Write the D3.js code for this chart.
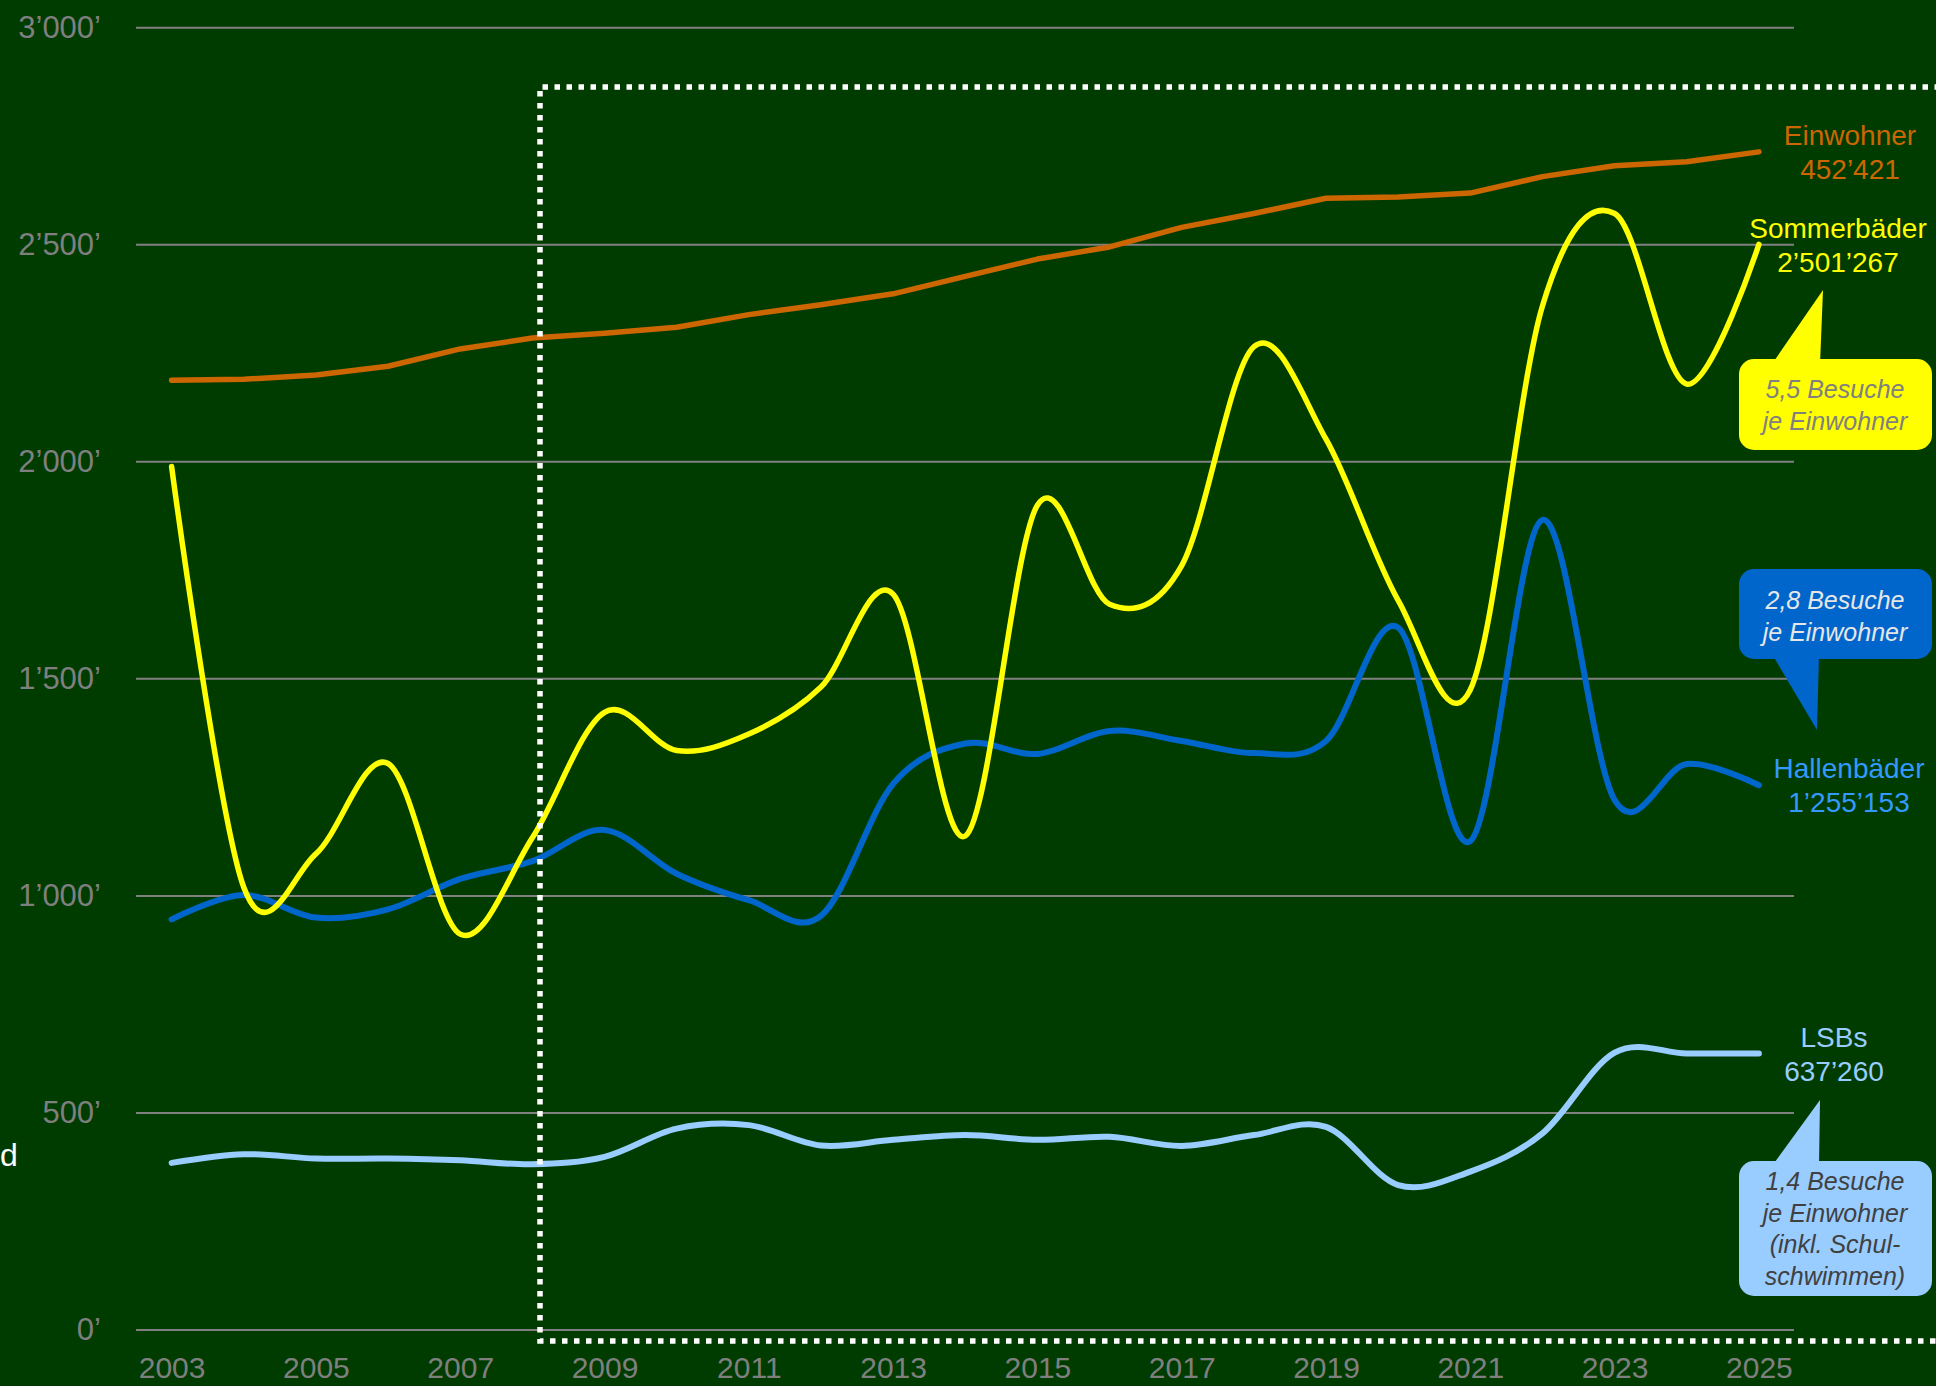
<!DOCTYPE html>
<html>
<head>
<meta charset="utf-8">
<script src="https://cdn.jsdelivr.net/npm/d3@7"></script>
<style>
  html, body { margin: 0; padding: 0; background: #003C00; overflow: hidden; }
  svg { display: block; }
  text { font-family: "Liberation Sans", Arial, sans-serif; }
</style>
</head>
<body>
<script>
// ---------- data ----------
const years = [2003,2004,2005,2006,2007,2008,2009,2010,2011,2012,2013,2014,2015,2016,2017,2018,2019,2020,2021,2022,2023,2024,2025];
// Einwohner (scaled: population * 6 / 1000)
const einwohner = [2188,2190,2200,2220,2260,2285,2296,2310,2339,2362,2387,2427,2467,2495,2540,2572,2607,2610,2619,2657,2682,2691,2714];
// Sommerbäder visits (thousands)
const sommerbaeder = [1989,1020,1097,1305,912,1134,1423,1335,1373,1481,1695,1138,1900,1672,1761,2265,2052,1681,1475,2359,2572,2179,2501];
// Hallenbäder visits (thousands)
const hallenbaeder = [946,1002,950,969,1039,1080,1152,1051,990,954,1258,1351,1327,1380,1357,1329,1357,1618,1126,1866,1221,1304,1255];
// LSBs visits (thousands)
const lsbs = [385,405,395,395,391,382,399,464,472,425,438,449,438,445,424,449,468,334,365,453,639,637,637];

const yTicks = [0,500,1000,1500,2000,2500,3000];
const yTickLabels = ["0’","500’","1’000’","1’500’","2’000’","2’500’","3’000’"];
const xTicks = [2003,2005,2007,2009,2011,2013,2015,2017,2019,2021,2023,2025];

const seriesLabels = [
  {name:"Einwohner", value:"452’421", color:"#CC6600"},
  {name:"Sommerbäder", value:"2’501’267", color:"#FFFF00"},
  {name:"Hallenbäder", value:"1’255’153", color:"#3399FF"},
  {name:"LSBs", value:"637’260", color:"#99CCFF"}
];
const calloutTexts = [
  ["5,5 Besuche","je Einwohner"],
  ["2,8 Besuche","je Einwohner"],
  ["1,4 Besuche","je Einwohner","(inkl. Schul-","schwimmen)"]
];

// ---------- layout ----------
const W = 1936, H = 1386;
const svg = d3.select("body").append("svg").attr("width", W).attr("height", H);
svg.append("rect").attr("width", W).attr("height", H).attr("fill", "#003C00");

const x = d3.scaleLinear().domain([2003, 2025]).range([171.6, 1758.9]);
const y = d3.scaleLinear().domain([0, 3000]).range([1330, 27.7]);

// gridlines
svg.append("g").selectAll("line").data(yTicks).join("line")
  .attr("x1", 136).attr("x2", 1794)
  .attr("y1", d => y(d)).attr("y2", d => y(d))
  .attr("stroke", "#808080").attr("stroke-width", 2);

// y axis labels
const yAxis = d3.axisLeft(y).tickValues(yTicks)
  .tickFormat((d, i) => yTickLabels[i]).tickSize(0).tickPadding(0);
const yg = svg.append("g").attr("transform", "translate(101,0)").call(yAxis);
yg.select(".domain").remove();
yg.selectAll("text").attr("fill", "#7F7F7F").attr("font-size", 31)
  .attr("font-family", "Liberation Sans, Arial, sans-serif");

// x axis labels
const xAxis = d3.axisBottom(x).tickValues(xTicks).tickFormat(d3.format("d")).tickSize(0).tickPadding(0);
const xg = svg.append("g").attr("transform", "translate(0,1357)").call(xAxis);
xg.select(".domain").remove();
xg.selectAll("text").attr("fill", "#7F7F7F").attr("font-size", 30)
  .attr("font-family", "Liberation Sans, Arial, sans-serif");

// lines
const smooth = d3.line().x((d, i) => x(years[i])).y(d => y(d)).curve(d3.curveCardinal.tension(0));
const linear = d3.line().x((d, i) => x(years[i])).y(d => y(d));

function drawLine(data, color, gen, w) {
  svg.append("path").datum(data).attr("d", gen)
    .attr("fill", "none").attr("stroke", color).attr("stroke-width", w)
    .attr("stroke-linecap", "round").attr("stroke-linejoin", "round");
}
drawLine(lsbs, "#99CCFF", smooth, 6);
drawLine(hallenbaeder, "#0066CC", smooth, 6);
drawLine(einwohner, "#CC6600", linear, 5.5);
drawLine(sommerbaeder, "#FFFF00", smooth, 5.5);

// dotted frame
svg.append("path")
  .attr("d", "M1940,87 H540 V1341 H1940")
  .attr("fill", "none").attr("stroke", "#FFFFFF").attr("stroke-width", 5.5)
  .attr("stroke-dasharray", "5.5 6.5");

// series labels
const labelPos = [
  {cx:1850, b:145}, {cx:1838, b:238}, {cx:1849, b:778}, {cx:1834, b:1047}
];
seriesLabels.forEach((s, i) => {
  const t = svg.append("text").attr("text-anchor", "middle")
    .attr("font-size", 28).attr("fill", s.color);
  t.append("tspan").attr("x", labelPos[i].cx).attr("y", labelPos[i].b).text(s.name);
  t.append("tspan").attr("x", labelPos[i].cx).attr("y", labelPos[i].b + 34).text(s.value);
});

// callouts
const callouts = [
  {box:[1739,359,1932,450], tri:[[1772,364],[1820,364],[1823,290]], fill:"#FFFF00", tc:"#808080", b:398},
  {box:[1739,569,1932,659], tri:[[1772,654],[1819,654],[1817,730]], fill:"#0066CC", tc:"#E6E6E6", b:609},
  {box:[1739,1161,1932,1296], tri:[[1772,1166],[1819,1166],[1820,1100]], fill:"#99CCFF", tc:"#404040", b:1190}
];
callouts.forEach((c, i) => {
  svg.append("rect").attr("x", c.box[0]).attr("y", c.box[1])
    .attr("width", c.box[2] - c.box[0]).attr("height", c.box[3] - c.box[1])
    .attr("rx", 15).attr("ry", 15).attr("fill", c.fill);
  svg.append("path").attr("d", "M" + c.tri.map(p => p.join(",")).join("L") + "Z")
    .attr("fill", c.fill);
  const t = svg.append("text").attr("text-anchor", "middle").attr("font-size", 25)
    .attr("font-style", "italic").attr("fill", c.tc);
  calloutTexts[i].forEach((line, j) => {
    t.append("tspan").attr("x", 1835).attr("y", c.b + j * 31.5).text(line);
  });
});

// partially visible axis title remnant
svg.append("text").attr("x", 0).attr("y", 1166).attr("font-size", 32)
  .attr("fill", "#FFFFFF").text("d");
</script>
</body>
</html>
